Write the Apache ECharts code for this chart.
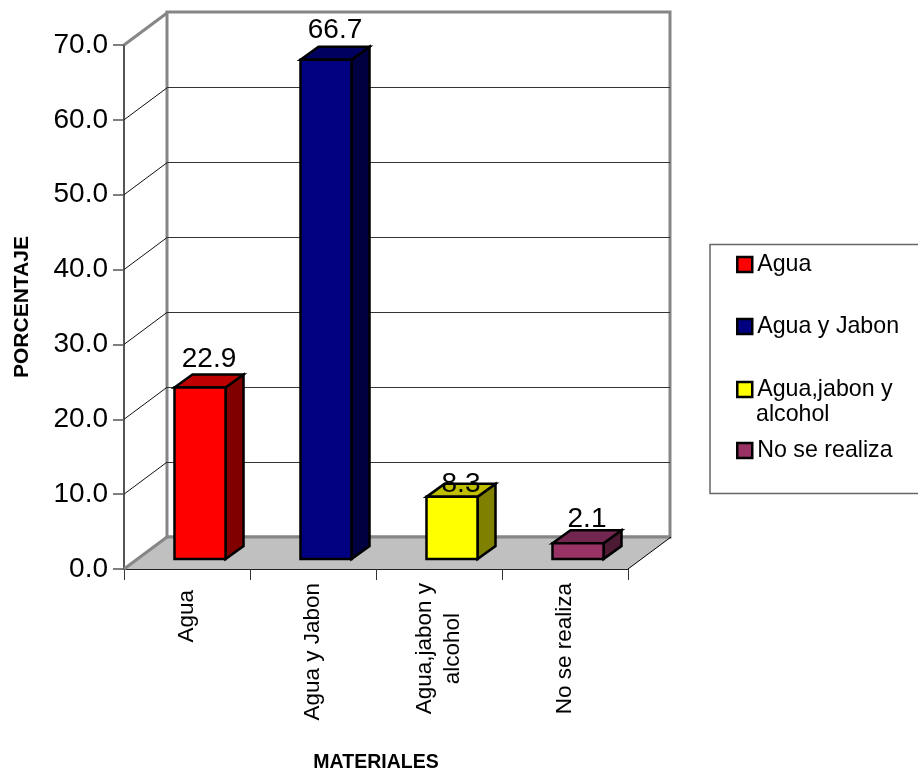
<!DOCTYPE html>
<html>
<head>
<meta charset="utf-8">
<style>html,body{margin:0;padding:0;background:#fff}#chart{width:918px;height:774px}</style>
<script src="https://cdn.jsdelivr.net/npm/echarts@6/dist/echarts.min.js"></script>
</head>
<body>
<div id="chart"></div>
<script>
// Survey data: materials used, as a percentage of responses
const categories = ['Agua', 'Agua y Jabon', 'Agua,jabon y\nalcohol', 'No se realiza'];
const legendNames = ['Agua', 'Agua y Jabon', 'Agua,jabon y', 'No se realiza'];
const values = [22.9, 66.7, 8.3, 2.1];
const valueTicks = [0, 10, 20, 30, 40, 50, 60, 70];
const axisNameX = 'MATERIALES';
const axisNameY = 'PORCENTAJE';

// Face colours of each box: front, top, side
const frontColors = ['#ff0000', '#000080', '#ffff00', '#993366'];
const topColors = ['#bf0000', '#000060', '#bfbf00', '#732650'];
const sideColors = ['#800000', '#000040', '#808000', '#4d1a33'];

// Oblique projection of the depth direction, in pixels
const DEPTH_X = 43, DEPTH_Y = -32;
const BAR_SHIFT_X = 13, BAR_SHIFT_Y = -10;
const BAR_DEPTH_X = 18, BAR_DEPTH_Y = -13;
const BAR_RATIO = 0.405;
const BAR_STROKE = 2.5;
const labelLift = [15, 16, 0, 11];
const legendTops = [253, 315, 378, 439];
const FONT = '"Liberation Sans", Arial, sans-serif';

function poly(points, fill, stroke, width) {
  return { type: 'polygon', shape: { points }, style: { fill, stroke, lineWidth: width, lineJoin: 'miter' } };
}
function line(a, b, stroke, width) {
  return { type: 'line', shape: { x1: a[0], y1: a[1], x2: b[0], y2: b[1] }, style: { stroke, lineWidth: width } };
}

// Side wall diagonals for each tick, and the floor
function renderShell(params, api) {
  const v = api.value(0);
  const p = api.coord([0, v]);
  const x0 = p[0] - api.size([1, 0])[0] / 2;
  const a = [x0, p[1]];
  const b = [x0 + DEPTH_X, p[1] + DEPTH_Y];
  const children = [];
  if (v === 0) {
    const x1 = x0 + api.size([1, 0])[0] * categories.length;
    children.push(poly([a, b, [x1 + DEPTH_X, p[1] + DEPTH_Y], [x1, p[1]]], '#c0c0c0', null, 0));
    children.push(line(b, [x1 + DEPTH_X, p[1] + DEPTH_Y], '#868686', 3));
    children.push(line(a, b, '#868686', 3));
    children.push(line([x1, p[1]], [x1 + DEPTH_X, p[1] + DEPTH_Y], '#000', 1));
  } else if (v === valueTicks[valueTicks.length - 1]) {
    children.push(line(a, b, '#868686', 3));
  } else {
    children.push(line(a, b, '#111', 1));
  }
  return { type: 'group', children };
}

// One box per category, standing part way into the floor depth
function renderBox(params, api) {
  const i = api.value(0);
  const val = api.value(1);
  const top = api.coord([i, val]);
  const base = api.coord([i, 0]);
  const w = api.size([1, 0])[0] * BAR_RATIO;
  const l = top[0] - w / 2 + BAR_SHIFT_X;
  const r = l + w;
  const yt = top[1] + BAR_SHIFT_Y;
  const yb = base[1] + BAR_SHIFT_Y;
  const dx = BAR_DEPTH_X, dy = BAR_DEPTH_Y;
  return {
    type: 'group',
    children: [
      poly([[r, yt], [r + dx, yt + dy], [r + dx, yb + dy], [r, yb]], sideColors[i], '#000', BAR_STROKE),
      poly([[l, yt], [l + dx, yt + dy], [r + dx, yt + dy], [r, yt]], topColors[i], '#000', BAR_STROKE),
      poly([[l, yt], [r, yt], [r, yb], [l, yb]], frontColors[i], '#000', BAR_STROKE),
      {
        type: 'text',
        style: {
          x: l + w / 2 + dx / 2 , y: yt + dy - labelLift[i],
          text: values[i].toFixed(1), fill: '#000',
          font: '28px ' + FONT, align: 'center', verticalAlign: 'middle'
        }
      }
    ]
  };
}

const boxSeries = categories.map((c, i) => ({
  type: 'custom',
  name: legendNames[i],
  coordinateSystem: 'cartesian2d',
  xAxisIndex: 0,
  yAxisIndex: 0,
  silent: true,
  z: 5,
  itemStyle: { color: frontColors[i] },
  encode: { x: 0, y: 1 },
  data: [[i, values[i]]],
  renderItem: renderBox
}));

// Category labels: wrapped lines are centred on each other, the short first label sits lower
const catLabelStyle = { fontSize: 22.5, lineHeight: 28, color: '#000', fontFamily: FONT };
function formatCategory(value, index) {
  if (index === 0) return '{low|' + value + '}';
  return value.split('\n').map(s => '{mid|' + s + '}').join('\n');
}

const option = {
  animation: false,
  backgroundColor: '#fff',
  textStyle: { fontFamily: FONT },
  grid: [
    { left: 124, top: 45, width: 504, height: 524, outerBoundsMode: 'none' },
    { left: 167, top: 12, width: 503, height: 525, outerBoundsMode: 'none', show: true, borderColor: '#868686', borderWidth: 3, backgroundColor: '#fff' }
  ],
  xAxis: [
    {
      type: 'category', gridIndex: 0, data: categories,
      name: axisNameX, nameLocation: 'middle', nameGap: 184,
      nameTextStyle: { fontSize: 19.5, fontWeight: 'bold', color: '#000', fontFamily: FONT },
      axisLine: { show: true, lineStyle: { color: '#222', width: 2 } },
      axisTick: { show: true, length: 11, lineStyle: { color: '#333', width: 1 } },
      axisLabel: {
        rotate: 90, interval: 0, margin: 14, formatter: formatCategory,
        ...catLabelStyle,
        rich: {
          low: { ...catLabelStyle, padding: [0, 7, 0, 0] },
          mid: { ...catLabelStyle, align: 'center' }
        }
      }
    },
    {
      type: 'category', gridIndex: 1, data: categories,
      axisLine: { show: false }, axisTick: { show: false }, axisLabel: { show: false }
    }
  ],
  yAxis: [
    {
      type: 'value', gridIndex: 0, min: 0, max: 70, interval: 10,
      name: axisNameY, nameLocation: 'middle', nameGap: 91,
      nameTextStyle: { fontSize: 21, fontWeight: 'bold', color: '#000', fontFamily: FONT },
      axisLine: { show: true, lineStyle: { color: '#555', width: 2 } },
      axisTick: { show: true, length: 11, lineStyle: { color: '#555', width: 1.5 } },
      axisLabel: { fontSize: 28, color: '#000', margin: 16, padding: [3, 0, 0, 0], fontFamily: FONT, formatter: v => v.toFixed(1) },
      splitLine: { show: false }
    },
    {
      type: 'value', gridIndex: 1, min: 0, max: 70, interval: 10,
      axisLine: { show: false }, axisTick: { show: false }, axisLabel: { show: false },
      splitLine: { show: true, showMinLine: false, showMaxLine: false, lineStyle: { color: '#333', width: 1 } }
    }
  ],
  legend: legendNames.map((n, i) => ({
    left: 736, top: legendTops[i], padding: 0,
    orient: 'vertical', selectedMode: false,
    data: [n], icon: 'rect', itemWidth: 15, itemHeight: 15, itemGap: 0,
    itemStyle: { borderColor: '#000', borderWidth: 2.5 },
    textStyle: { fontSize: 23.2, color: '#000', fontFamily: FONT }
  })),
  graphic: [
    {
      type: 'rect', z: -1, silent: true,
      shape: { x: 710, y: 244.5, width: 230, height: 249 },
      style: { fill: '#fff', stroke: '#666', lineWidth: 1.5 }
    },
    {
      type: 'text', silent: true,
      style: { x: 756, y: 415, text: 'alcohol', fill: '#000', font: '23.2px ' + FONT, verticalAlign: 'middle' }
    }
  ],
  series: [
    {
      type: 'custom',
      name: 'shell',
      coordinateSystem: 'cartesian2d',
      xAxisIndex: 0, yAxisIndex: 0,
      silent: true, z: 1,
      encode: { y: 0 },
      data: valueTicks.map(v => [v]),
      renderItem: renderShell
    }
  ].concat(boxSeries)
};

echarts.init(document.getElementById('chart'), null, { renderer: 'canvas' }).setOption(option);
</script>
</body>
</html>
